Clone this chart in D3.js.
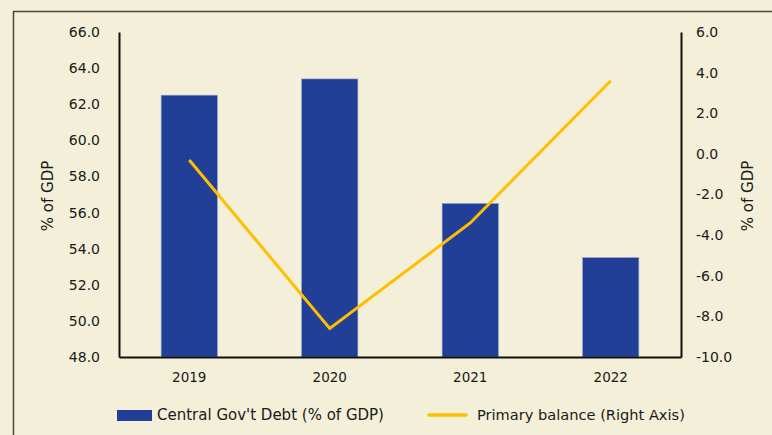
<!DOCTYPE html>
<html>
<head>
<meta charset="utf-8">
<script src="https://cdn.jsdelivr.net/npm/d3@7"></script>
<style>
body { margin:0; background:#f3efd8; }
text { font-family: "DejaVu Sans", sans-serif; fill:#1a1a1a; }
</style>
</head>
<body>
<div id="chart"></div>
<script>
var years = ["2019", "2020", "2021", "2022"];
var debt = [62.5, 63.4, 56.5, 53.5];
var balance = [-0.3, -8.6, -3.4, 3.6];
var leftTicks = [48, 50, 52, 54, 56, 58, 60, 62, 64, 66];
var rightTicks = [-10, -8, -6, -4, -2, 0, 2, 4, 6];

var W = 772, H = 435;
var m = {left:119, right:681, top:32, bottom:357};

var svg = d3.select("#chart").append("svg")
    .attr("width", W)
    .attr("height", H);

svg.append("rect").attr("width", W).attr("height", H).attr("fill", "#f3efd8");
// outer frame
svg.append("path")
    .attr("d", "M13.5," + H + "V11.5H" + W)
    .attr("fill", "none").attr("stroke", "#4a4a42").attr("stroke-width", 1.5);

var x = d3.scaleBand().domain(years).range([m.left, m.right]).paddingInner(0.6).paddingOuter(0.3);
var yL = d3.scaleLinear().domain([48, 66]).range([m.bottom, m.top]);
var yR = d3.scaleLinear().domain([-10, 6]).range([m.bottom, m.top]);

// hyphen instead of unicode minus, like the original
var fmt = function(d){ return d.toFixed(1); };

svg.selectAll("rect.bar")
    .data(debt)
    .enter()
    .append("rect")
    .attr("class", "bar")
    .attr("x", function(d,i){ return x(years[i]); })
    .attr("width", x.bandwidth())
    .attr("y", function(d){ return yL(d); })
    .attr("height", function(d){ return yL(48) - yL(d); })
    .attr("fill", "#213f96")
    .attr("stroke", "#8a9bc8")
    .attr("stroke-width", 0.6);

var line = d3.line()
    .x(function(d,i){ return x(years[i]) + x.bandwidth()/2; })
    .y(function(d){ return yR(d); });

svg.append("path")
    .datum(balance)
    .attr("d", line)
    .attr("fill", "none")
    .attr("stroke", "#ffbf00")
    .attr("stroke-width", 3);

// axes
var axL = svg.append("g").attr("transform", "translate(" + m.left + ",0)")
    .call(d3.axisLeft(yL).tickValues(leftTicks).tickSize(0).tickPadding(19).tickFormat(fmt));
var axR = svg.append("g").attr("transform", "translate(" + m.right + ",0)")
    .call(d3.axisRight(yR).tickValues(rightTicks).tickSize(0).tickPadding(15).tickFormat(fmt));
var axB = svg.append("g").attr("transform", "translate(0," + m.bottom + ")")
    .call(d3.axisBottom(x).tickSize(0).tickPadding(15));

[axL, axR, axB].forEach(function(a){
    a.select(".domain").attr("stroke", "#111").attr("stroke-width", 2);
    a.selectAll("text").style("font-family", "DejaVu Sans, sans-serif").style("font-size", "14px").attr("fill", "#1a1a1a");
});
axB.selectAll("text").style("font-size", "13.5px").style("font-weight", "500");

svg.append("text")
    .attr("transform", "translate(53,196) rotate(-90)")
    .style("text-anchor", "middle")
    .style("font-size", "15px")
    .text("% of GDP");
svg.append("text")
    .attr("transform", "translate(753,196) rotate(-90)")
    .style("text-anchor", "middle")
    .style("font-size", "15px")
    .text("% of GDP");

// legend
svg.append("rect").attr("x", 117).attr("y", 410).attr("width", 35).attr("height", 11).attr("fill", "#213f96");
svg.append("text").attr("x", 157).attr("y", 420).style("font-size", "15px").text("Central Gov't Debt (% of GDP)");
svg.append("line").attr("x1", 429).attr("x2", 466).attr("y1", 415).attr("y2", 415)
    .attr("stroke", "#ffbf00").attr("stroke-width", 3.5).attr("stroke-linecap", "round");
svg.append("text").attr("x", 477).attr("y", 420).style("font-size", "14.6px").text("Primary balance (Right Axis)");
</script>
</body>
</html>
